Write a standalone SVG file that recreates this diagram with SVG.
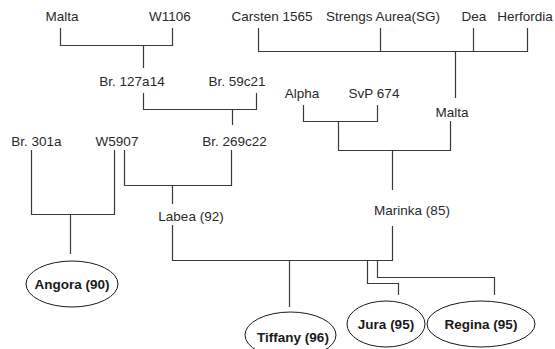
<svg xmlns="http://www.w3.org/2000/svg" width="555" height="349" viewBox="0 0 555 349">
  <style>
    .lbl { font-family: "Liberation Sans", Arial, sans-serif; font-size: 13.5px; fill: #2a2a2a; text-anchor: middle; }
    .cv { font-family: "Liberation Sans", Arial, sans-serif; font-size: 13.5px; font-weight: bold; fill: #1a1a1a; text-anchor: middle; }
    .oval { fill: #ffffff; stroke: #1a1a1a; stroke-width: 1; }
    .link { fill: none; stroke: #3a3a3a; stroke-width: 1.2; }
  </style>
  <rect width="555" height="349" fill="#ffffff"/>

  <g id="connectors">
    <!-- Malta x W1106 -> Br. 127a14 -->
    <path class="link" d="M60.5 28 V45.5 H172.5 V28 M143.5 45.5 V68"/>
    <!-- Br. 127a14 x Br. 59c21 -> Br. 269c22 -->
    <path class="link" d="M143.5 93 V109.5 H256.5 V93 M232.5 109.5 V125"/>
    <!-- Carsten 1565, Strengs Aurea, Dea, Herfordia -> Malta -->
    <path class="link" d="M258.5 28 V51.5 H527.5 V28 M380.5 28 V51.5 M473.5 28 V51.5 M455.5 51.5 V98"/>
    <!-- Alpha x SvP 674 -->
    <path class="link" d="M303.5 105 V121.5 H377.5 V105 M338.5 121.5 V150.5 H450.5 V121"/>
    <!-- -> Marinka (85) -->
    <path class="link" d="M392.5 150.5 V190"/>
    <!-- Br. 301a x W5907 -> Angora -->
    <path class="link" d="M31.5 150 V214.5 H114.5 V150 M70.5 214.5 V254"/>
    <!-- W5907 x Br. 269c22 -> Labea -->
    <path class="link" d="M124.5 150 V185.5 H231.5 V150 M172.5 185.5 V204"/>
    <!-- Labea x Marinka -> offspring -->
    <path class="link" d="M172.5 225 V260.5 H392.5 V226 M289.5 260.5 V307"/>
    <path class="link" d="M367.5 260.5 V283.5 H398.5 V295"/>
    <path class="link" d="M377.5 260.5 V277.5 H494.5 V295"/>
  </g>

  <g id="n-malta-1"><text class="lbl" x="62" y="21">Malta</text></g>
  <g id="n-w1106"><text class="lbl" x="170" y="21">W1106</text></g>
  <g id="n-carsten"><text class="lbl" x="272" y="21">Carsten 1565</text></g>
  <g id="n-strengs"><text class="lbl" x="383" y="21">Strengs Aurea(SG)</text></g>
  <g id="n-dea"><text class="lbl" x="474" y="21">Dea</text></g>
  <g id="n-herfordia"><text class="lbl" x="525" y="21">Herfordia</text></g>

  <g id="n-br127a14"><text class="lbl" x="132" y="86">Br. 127a14</text></g>
  <g id="n-br59c21"><text class="lbl" x="237" y="86">Br. 59c21</text></g>
  <g id="n-alpha"><text class="lbl" x="302" y="98">Alpha</text></g>
  <g id="n-svp674"><text class="lbl" x="374" y="98">SvP 674</text></g>
  <g id="n-malta-2"><text class="lbl" x="452" y="117">Malta</text></g>

  <g id="n-br301a"><text class="lbl" x="36.5" y="146">Br. 301a</text></g>
  <g id="n-w5907"><text class="lbl" x="117" y="146">W5907</text></g>
  <g id="n-br269c22"><text class="lbl" x="234.5" y="146">Br. 269c22</text></g>

  <g id="n-labea"><text class="lbl" x="191" y="221">Labea (92)</text></g>
  <g id="n-marinka"><text class="lbl" x="412" y="215">Marinka (85)</text></g>

  <g id="n-angora">
    <ellipse class="oval" cx="72" cy="284" rx="46" ry="23"/>
    <text class="cv" x="72" y="289">Angora (90)</text>
  </g>
  <g id="n-tiffany">
    <ellipse class="oval" cx="290.5" cy="335" rx="45.5" ry="23"/>
    <text class="cv" x="293" y="342">Tiffany (96)</text>
  </g>
  <g id="n-jura">
    <ellipse class="oval" cx="386" cy="324" rx="39" ry="23"/>
    <text class="cv" x="386" y="329">Jura (95)</text>
  </g>
  <g id="n-regina">
    <ellipse class="oval" cx="481" cy="324" rx="54" ry="23"/>
    <text class="cv" x="481" y="329">Regina (95)</text>
  </g>
</svg>
